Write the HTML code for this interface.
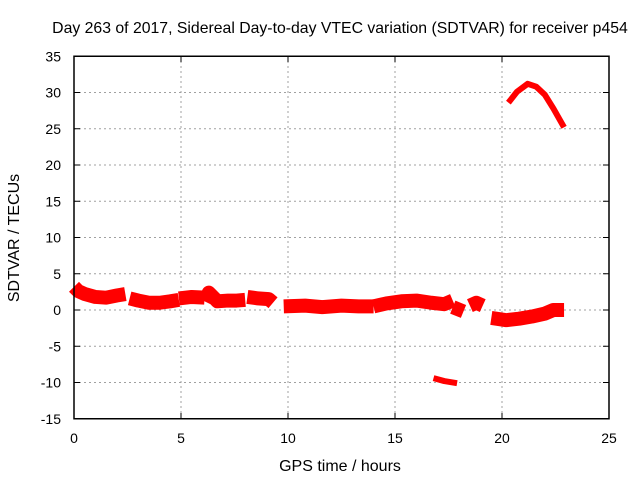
<!DOCTYPE html>
<html><head><meta charset="utf-8"><style>
body{margin:0;background:#fff}
svg{display:block;font-family:"Liberation Sans",sans-serif}
</style></head><body>
<svg id="chart" width="640" height="480">
<text x="340" y="33" font-size="15.8" text-anchor="middle">Day 263 of 2017, Sidereal Day-to-day VTEC variation (SDTVAR) for receiver p454</text>
<text x="340" y="471" font-size="16" text-anchor="middle">GPS time / hours</text>
<text x="0" y="0" font-size="16" text-anchor="middle" transform="translate(19,238) rotate(-90)">SDTVAR / TECUs</text>
<g id="grid"></g><g id="data"></g><g id="axes"></g>
</svg>
<script>
const xTicks=[0,5,10,15,20,25];
const yTicks=[-15,-10,-5,0,5,10,15,20,25,30,35];
const segX=[[0,0.2,0.5,1,1.5,2,2.4],[2.6,3,3.5,4,4.5,4.9],[4.9,5.5,6.1],[6.1,6.3,6.7,7.2,7.6,8],[8.1,8.6,9.1,9.3],[9.8,10.8,11.6,12.5,13.3,14],[14,14.6,15.3,16,16.7,17.3,17.7],[17.7,18.2],[18.5,18.8,19.1],[19.5,20.2,20.8,21.4,22,22.4,22.9]];
const segY=[[3.2,2.6,2.2,1.8,1.7,2.0,2.2],[1.6,1.3,1.0,1.0,1.2,1.4],[1.6,1.8,1.7],[1.2,2.4,1.2,1.3,1.3,1.4],[1.8,1.6,1.5,1.0],[0.5,0.6,0.4,0.6,0.5,0.5],[0.5,0.9,1.2,1.3,1.0,0.8,1.3],[0.4,-0.2],[0.6,1.0,0.6],[-1.1,-1.4,-1.2,-0.9,-0.5,0.0,0.0]];
const thinX=[[16.8,17.3,17.9],[20.3,20.7,21.2,21.6,22.0,22.4,22.9]];
const thinY=[[-9.4,-9.8,-10.1],[28.6,30.1,31.2,30.8,29.7,27.8,25.2]];
const X=v=>74+v*21.4, Y=v=>310-v*7.25;
const ns="http://www.w3.org/2000/svg";
function mk(t,a,p){const e=document.createElementNS(ns,t);for(const k in a)e.setAttribute(k,a[k]);p.appendChild(e);return e;}
const grid=document.getElementById('grid'),axes=document.getElementById('axes'),data=document.getElementById('data');
xTicks.forEach(t=>{
 if(t>0&&t<25){const l=mk('line',{x1:X(t),x2:X(t),y1:56,y2:419,stroke:'#a0a0a0','stroke-dasharray':'2,3'},grid);
 
 }
 const s=mk('text',{x:X(t),y:443,'font-size':14,'text-anchor':'middle'},axes);s.textContent=t;
 
 
 mk('line',{x1:X(t),x2:X(t),y1:419,y2:413,stroke:'#000'},axes);
 mk('line',{x1:X(t),x2:X(t),y1:56,y2:62,stroke:'#000'},axes);
});
yTicks.forEach(t=>{
 if(t>-15&&t<35){const l=mk('line',{x1:74,x2:609,y1:Y(t),y2:Y(t),stroke:'#a0a0a0','stroke-dasharray':'2,3'},grid);
 
 }
 const s=mk('text',{x:61,y:Y(t)+5,'font-size':14,'text-anchor':'end'},axes);s.textContent=t;
 
 
 mk('line',{x1:74,x2:80,y1:Y(t),y2:Y(t),stroke:'#000'},axes);
 mk('line',{x1:603,x2:609,y1:Y(t),y2:Y(t),stroke:'#000'},axes);
});
const fr=mk('rect',{x:74,y:56.25,width:535,height:362.5,fill:'none',stroke:'#000','stroke-width':1.5},axes);


segX.forEach((xs,i)=>{
 const p=mk('polyline',{points:xs.map((x,j)=>X(x)+','+Y(segY[i][j])).join(' '),fill:'none',stroke:'#f00','stroke-width':14,'stroke-linejoin':'round','stroke-linecap':'butt'},data);
 
 
});
thinX.forEach((xs,i)=>{
 const p=mk('polyline',{points:xs.map((x,j)=>X(x)+','+Y(thinY[i][j])).join(' '),fill:'none',stroke:'#f00','stroke-width':6,'stroke-linejoin':'round'},data);
 
 
});
</script>
</body></html>
